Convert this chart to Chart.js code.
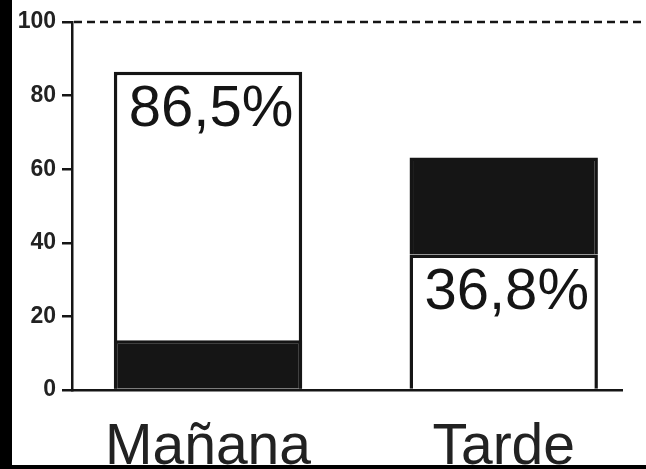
<!DOCTYPE html>
<html lang="es">
<head>
<meta charset="utf-8">
<title>Mañana / Tarde</title>
<script src="https://cdn.jsdelivr.net/npm/chart.js@4.4.0/dist/chart.umd.min.js"></script>
<style>
  html, body { margin: 0; padding: 0; background: #000; }
  #grafica { position: absolute; left: 12px; top: 0; background: #fff; }
</style>
</head>
<body>
<canvas id="grafica" width="634" height="465"></canvas>
<script>
  const categorias = ['Mañana', 'Tarde'];
  const posiciones = [0, 1];
  // tramo blanco (el rotulado) y tramo negro de cada barra, [desde, hasta]
  const blanco = [[0, 86.5], [0, 36.8]];
  const negro = [[0, 13.5], [36.8, 63.2]];
  const ticksY = [0, 20, 40, 60, 80, 100];

  const tinta = '#151515';

  // linea de 100 punteada y porcentajes dentro de las barras blancas
  const extras = {
    id: 'extras',
    afterDatasetsDraw(chart) {
      const ctx = chart.ctx;
      const area = chart.chartArea;
      const y100 = chart.scales.y.getPixelForValue(100);
      ctx.save();
      ctx.strokeStyle = tinta;
      ctx.lineWidth = 2.5;
      ctx.setLineDash([8, 5]);
      ctx.beginPath();
      ctx.moveTo(area.left + 2, y100);
      ctx.lineTo(chart.width, y100);
      ctx.stroke();
      ctx.setLineDash([]);

      const meta = chart.getDatasetMeta(1);
      ctx.font = '58px "Liberation Sans", Arial, sans-serif';
      ctx.fillStyle = tinta;
      ctx.textAlign = 'center';
      ctx.textBaseline = 'alphabetic';
      meta.data.forEach(function(bar, i) {
        const texto = blanco[i][1].toFixed(1).replace('.', ',') + '%';
        ctx.fillText(texto, bar.x + 3, bar.y + 54);
      });
      ctx.restore();
    }
  };

  const grafica = new Chart(document.getElementById('grafica'), {
    type: 'bar',
    data: {
      datasets: [
        {
          data: posiciones.map((x, i) => ({ x: x, y: negro[i] })),
          backgroundColor: tinta,
          borderColor: tinta,
          borderWidth: 3.5,
          borderSkipped: 'start',
          grouped: false
        },
        {
          data: posiciones.map((x, i) => ({ x: x, y: blanco[i] })),
          backgroundColor: '#fff',
          borderColor: tinta,
          borderWidth: 3.5,
          borderSkipped: 'start',
          grouped: false
        }
      ]
    },
    options: {
      responsive: false,
      animation: false,
      layout: { padding: { top: 22, right: 24, left: 0, bottom: 0 } },
      plugins: { legend: { display: false }, tooltip: { enabled: false } },
      datasets: { bar: { categoryPercentage: 1, barPercentage: 0.637 } },
      scales: {
        x: {
          type: 'linear',
          min: -0.46,
          max: 1.4,
          offset: false,
          afterBuildTicks: s => { s.ticks = posiciones.map(v => ({ value: v })); },
          afterFit: s => { s.height = 75; },
          grid: { display: false },
          border: { display: true, color: tinta, width: 2.5 },
          ticks: {
            color: '#222',
            padding: 16,
            font: { family: '"Liberation Sans", Arial, sans-serif', size: 57 },
            callback: v => categorias[v]
          }
        },
        y: {
          min: 0,
          max: 100,
          afterBuildTicks: s => { s.ticks = ticksY.map(v => ({ value: v })); },
          afterFit: s => { s.width = 60; },
          grid: { drawOnChartArea: false, drawTicks: true, tickLength: 10, color: tinta, lineWidth: 2.5 },
          border: { display: true, color: tinta, width: 2.5 },
          ticks: {
            color: '#222',
            padding: 6,
            font: { family: '"Liberation Sans", Arial, sans-serif', size: 23, weight: 'bold' }
          }
        }
      }
    },
    plugins: [extras]
  });
</script>
</body>
</html>
